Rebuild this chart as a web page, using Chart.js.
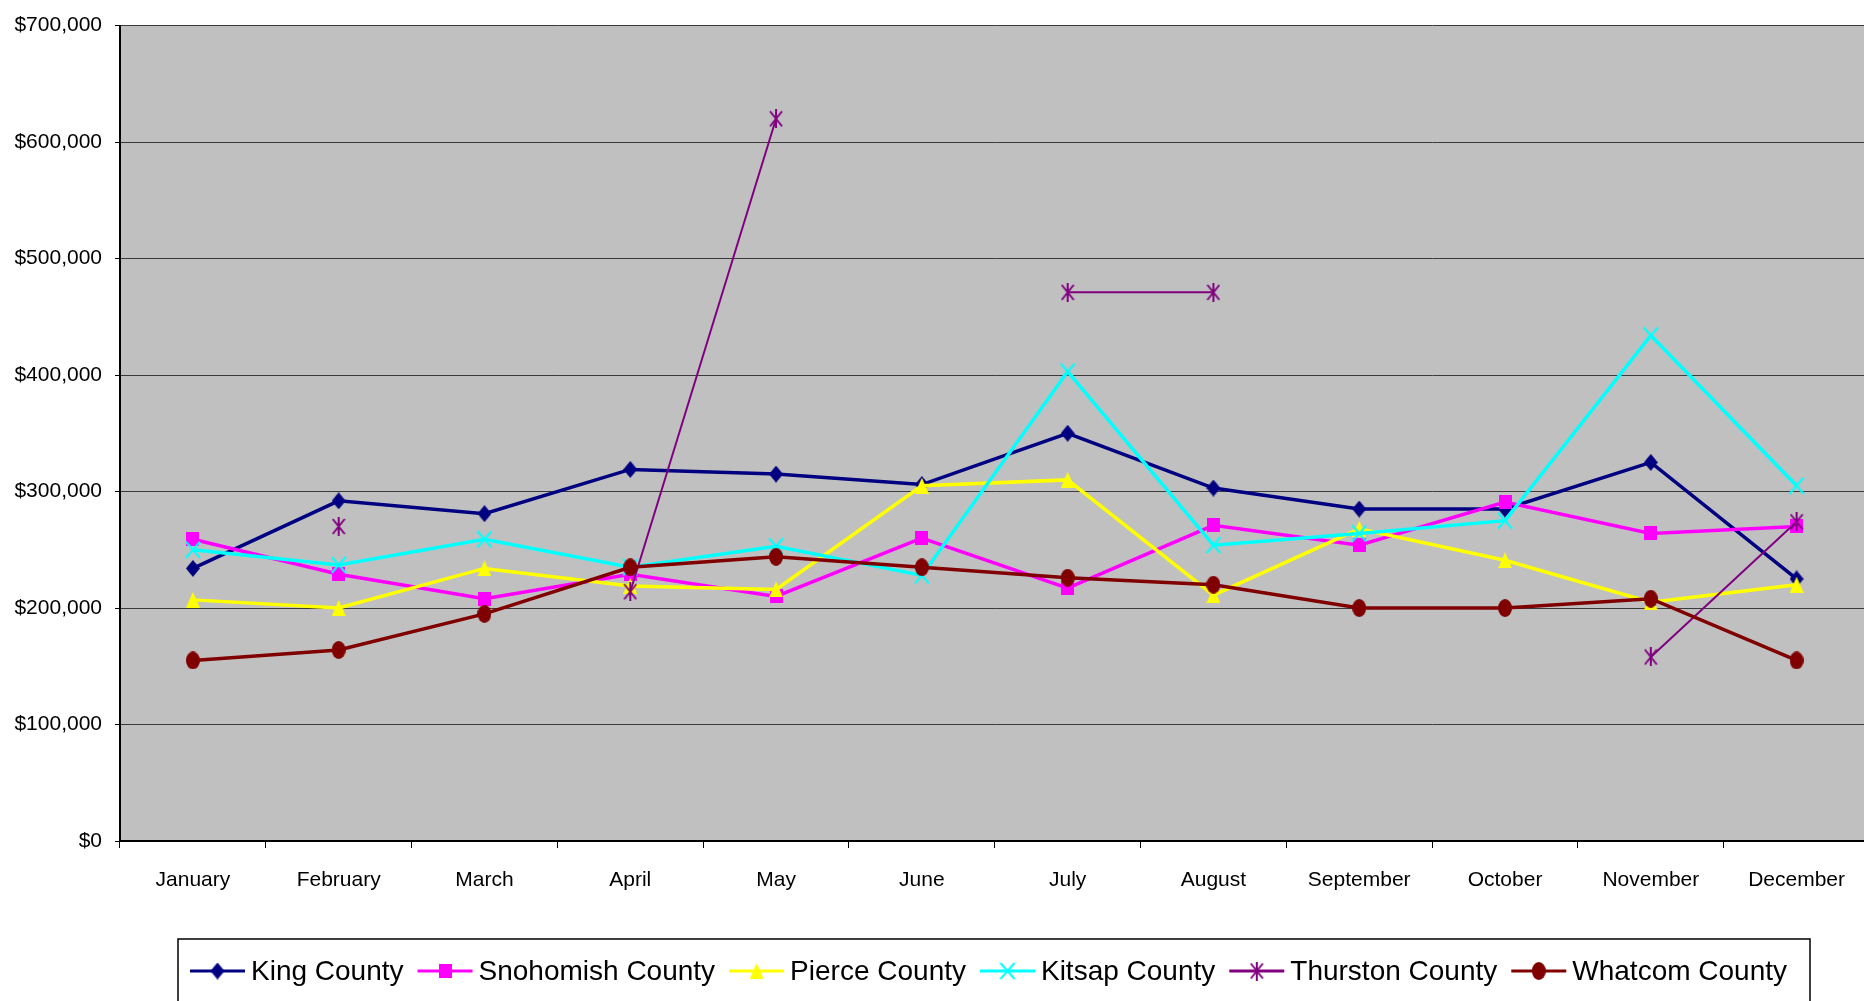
<!DOCTYPE html>
<html lang="en">
<head>
<meta charset="UTF-8">
<title>Monthly amounts by county</title>
<style>
  html, body { margin: 0; padding: 0; background: #fff; overflow: hidden; }
  #wrap { width: 1882px; height: 1001px; }
</style>
</head>
<body>
<div id="wrap"><canvas id="chart" width="1882" height="1001"></canvas></div>
<script src="https://cdn.jsdelivr.net/npm/chart.js@4"></script>
<script>
// categories and series
var months = ['January', 'February', 'March', 'April', 'May', 'June', 'July',
              'August', 'September', 'October', 'November', 'December'];
var seriesNames = ['King County', 'Snohomish County', 'Pierce County',
                   'Kitsap County', 'Thurston County', 'Whatcom County'];
var king      = [234000, 292000, 281000, 319000, 315000, 306000, 350000, 303000, 285000, 285000, 325000, 225000];
var snohomish = [259000, 229000, 208000, 229000, 210000, 260000, 217000, 271000, 254000, 291000, 264000, 270000];
var pierce    = [207000, 200000, 234000, 219000, 216000, 305000, 310000, 211000, 268000, 241000, 205000, 220000];
var kitsap    = [250000, 237000, 259000, 235000, 253000, 228000, 403000, 254000, 264000, 275000, 434000, 305000];
var thurston  = [null, 270000, null, 214000, 620000, null, 471000, 471000, null, null, 158000, 274000];
var whatcom   = [155000, 164000, 195000, 235000, 244000, 235000, 226000, 220000, 200000, 200000, 208000, 155000];
var yMin = 0, yMax = 700000, yStep = 100000;

var colors = ['#000080', '#ff00ff', '#ffff00', '#00ffff', '#800080', '#800000'];
var fontFamily = '"Liberation Sans", Arial, sans-serif';

// little canvases for the Excel style markers
function makeMarker(w, h, draw) {
    var c = document.createElement('canvas');
    c.width = w; c.height = h;
    draw(c.getContext('2d'), w, h);
    return c;
}
var markers = [
    makeMarker(14, 17, function(g, w, h) {   // diamond
        g.fillStyle = colors[0];
        g.beginPath(); g.moveTo(w / 2, 0); g.lineTo(w, h / 2); g.lineTo(w / 2, h); g.lineTo(0, h / 2);
        g.closePath(); g.fill();
    }),
    makeMarker(13, 14, function(g, w, h) {   // square
        g.fillStyle = colors[1];
        g.fillRect(0, 0, w, h);
    }),
    makeMarker(14, 16, function(g, w, h) {   // triangle
        g.fillStyle = colors[2];
        g.beginPath(); g.moveTo(w / 2, 0); g.lineTo(w, h); g.lineTo(0, h);
        g.closePath(); g.fill();
    }),
    makeMarker(16, 18, function(g, w, h) {   // x
        g.strokeStyle = colors[3]; g.lineWidth = 2;
        g.beginPath(); g.moveTo(1, 1); g.lineTo(w - 1, h - 1); g.moveTo(w - 1, 1); g.lineTo(1, h - 1);
        g.stroke();
    }),
    makeMarker(14, 19, function(g, w, h) {   // star
        g.strokeStyle = colors[4]; g.lineWidth = 2;
        g.beginPath(); g.moveTo(w / 2, 0); g.lineTo(w / 2, h);
        g.moveTo(1, 2); g.lineTo(w - 1, h - 2); g.moveTo(w - 1, 2); g.lineTo(1, h - 2);
        g.stroke();
    }),
    makeMarker(14, 18, function(g, w, h) {   // circle
        g.fillStyle = colors[5];
        g.beginPath(); g.ellipse(w / 2, h / 2, w / 2, h / 2, 0, 0, Math.PI * 2); g.fill();
    })
];

var allData = [king, snohomish, pierce, kitsap, thurston, whatcom];
var datasets = allData.map(function(d, i) {
    return {
        label: seriesNames[i],
        data: d,
        borderColor: colors[i],
        backgroundColor: colors[i],
        borderWidth: i === 4 ? 2 : 3.5,
        pointStyle: markers[i],
        pointRadius: 9,
        tension: 0,
        spanGaps: false,
        order: 5 - i
    };
});

// grey plot area
var plotBg = {
    id: 'plotBg',
    beforeDraw: function(chart) {
        var a = chart.chartArea, ctx = chart.ctx;
        ctx.save();
        ctx.fillStyle = '#c0c0c0';
        ctx.fillRect(a.left, a.top, a.right - a.left, a.bottom - a.top);
        ctx.restore();
    }
};

// legend box at the bottom, line + marker like Excel
var excelLegend = {
    id: 'excelLegend',
    afterDraw: function(chart) {
        var ctx = chart.ctx;
        ctx.save();
        ctx.fillStyle = '#fff';
        ctx.strokeStyle = '#000';
        ctx.lineWidth = 1.5;
        ctx.fillRect(178, 939, 1632, 80);
        ctx.strokeRect(178, 939, 1632, 80);
        ctx.font = '28px ' + fontFamily;
        ctx.textBaseline = 'middle';
        var x = 190, y = 971;
        chart.data.datasets.forEach(function(ds, i) {
            ctx.strokeStyle = colors[i];
            ctx.lineWidth = 3;
            ctx.beginPath(); ctx.moveTo(x, y); ctx.lineTo(x + 55, y); ctx.stroke();
            var m = markers[i];
            ctx.drawImage(m, x + 27.5 - m.width / 2, y - m.height / 2);
            ctx.fillStyle = '#000';
            ctx.fillText(ds.label, x + 61, y + 1);
            x = x + 61 + ctx.measureText(ds.label).width + 14;
        });
        ctx.restore();
    }
};

Chart.defaults.font.family = fontFamily;

new Chart(document.getElementById('chart'), {
    type: 'line',
    data: { labels: months, datasets: datasets },
    plugins: [plotBg, excelLegend],
    options: {
        responsive: false,
        animation: false,
        devicePixelRatio: 1,
        events: [],
        layout: { padding: { top: 25, left: 0, right: 0, bottom: 0 } },
        plugins: {
            legend: { display: false },
            tooltip: { enabled: false }
        },
        scales: {
            x: {
                type: 'category',
                offset: true,
                grid: { offset: true, drawOnChartArea: false, drawTicks: true, tickLength: 7, color: '#000', lineWidth: 1 },
                border: { color: '#000', width: 2 },
                ticks: { color: '#000', font: { size: 21 }, padding: 20, maxRotation: 0, autoSkip: false },
                afterFit: function(s) { s.height = 160; }
            },
            y: {
                min: yMin,
                max: yMax,
                ticks: {
                    stepSize: yStep,
                    color: '#000',
                    font: { size: 21 },
                    padding: 13,
                    callback: function(v) { return '$' + v.toLocaleString('en-US'); }
                },
                grid: { color: '#3a3a3a', lineWidth: 1, tickLength: 5, tickColor: '#000' },
                border: { color: '#000', width: 2 },
                afterFit: function(s) { s.width = 120; }
            }
        }
    }
});
</script>
</body>
</html>
